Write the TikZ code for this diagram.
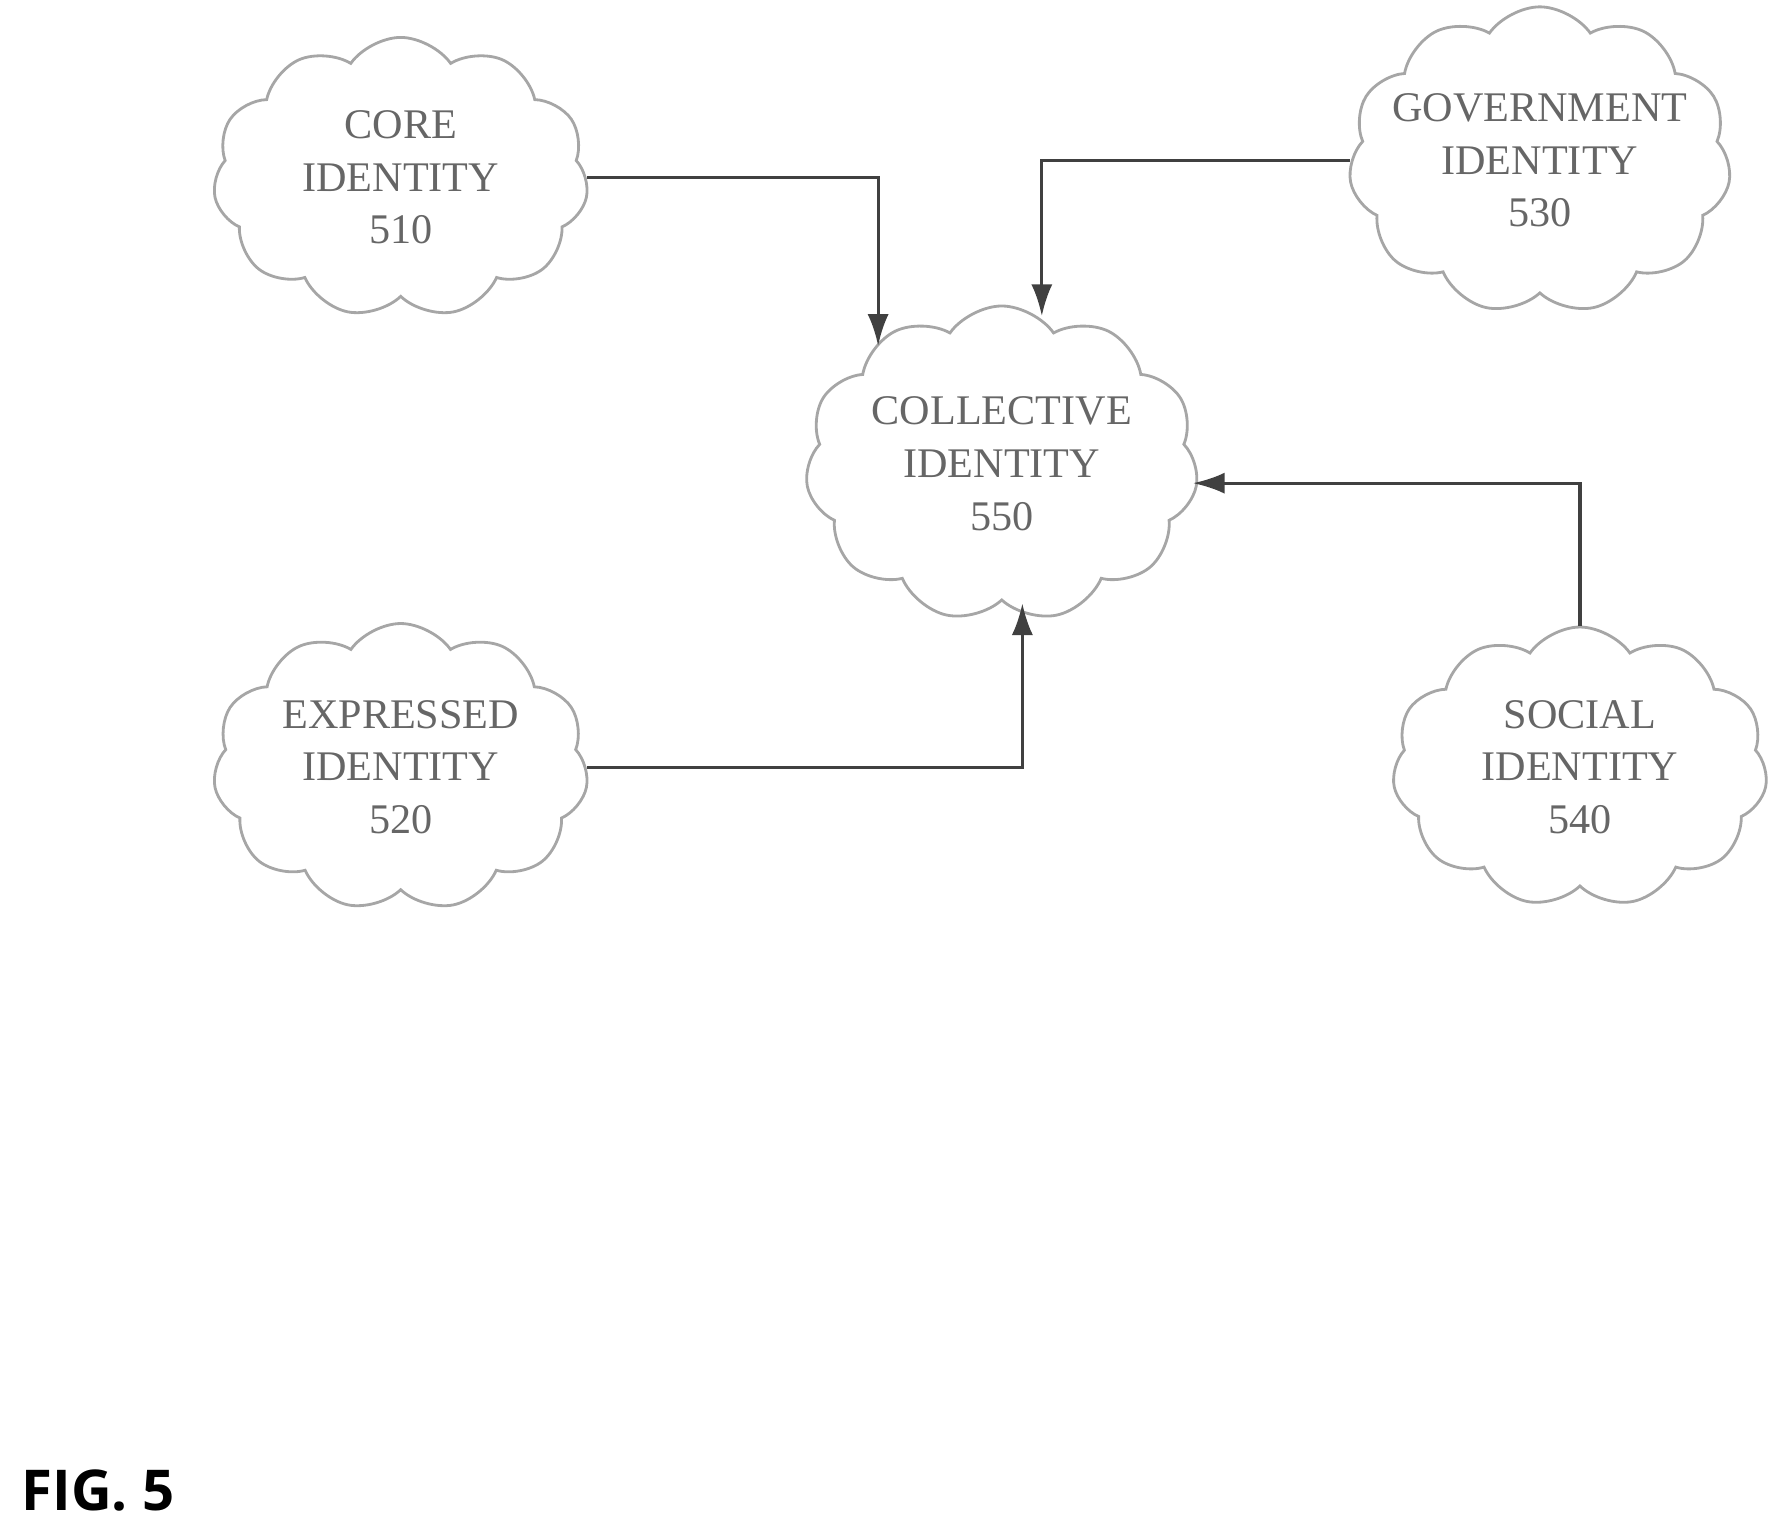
\documentclass[tikz,border=0pt]{standalone}
\usepackage{fontspec}
\setmainfont{Liberation Serif}
\newfontfamily\figfont{Open Sans}
\usetikzlibrary{shapes.symbols,arrows.meta}
\tikzset{
  idcloud/.style={draw=gray!70, cloud, cloud puffs=11, cloud puff arc=110, aspect=1.35,
    minimum width=3.75cm, minimum height=2.8cm, inner sep=0pt, align=center,
    text=gray!80!black, font=\fontsize{12}{15}\selectfont, line width=0.8pt},
  link/.style={draw=black!75, line width=0.9pt, -{Latex[length=9pt,width=6pt]}}
}
\begin{document}
\begin{tikzpicture}[x=0.01145cm, y=-0.01145cm]
  \useasboundingbox (0,0) rectangle (1560,1329);

  % clouds
  \node[idcloud] (core) at (350,155) {CORE\\IDENTITY\\510};
  \node[idcloud, inner sep=-6pt] (gov) at (1345,140) {GOVERNMENT\\IDENTITY\\530};
  \node[idcloud] (coll) at (875,405) {COLLECTIVE\\IDENTITY\\550};
  \node[idcloud] (expr) at (350,670) {EXPRESSED\\IDENTITY\\520};
  \node[idcloud] (soc) at (1380,670) {SOCIAL\\IDENTITY\\540};

  % arrow ends on the collective cloud
  \coordinate (collA) at (767,302);
  \coordinate (collB) at (910,276);
  \coordinate (collC) at (1042,422);
  \coordinate (collD) at (893,527);

  \draw[link] (core.east) -| (collA);
  \draw[link] (gov.west) -| (collB);
  \draw[link] (soc.north) |- (collC);
  \draw[link] (expr.east) -| (collD);

  \node[font=\figfont\bfseries\fontsize{16}{19}\selectfont, anchor=west] (fig) at (8,1302) {FIG. 5};
\end{tikzpicture}
\end{document}
